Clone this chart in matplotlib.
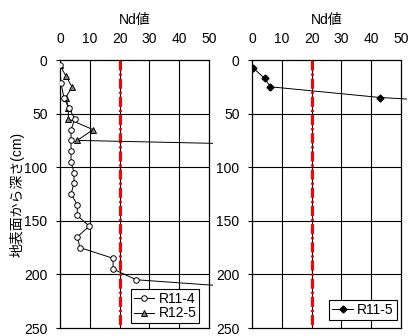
import matplotlib
matplotlib.use("Agg")
import matplotlib.pyplot as plt
from matplotlib.transforms import Bbox, TransformedBbox

plt.rcParams['font.family'] = ['Liberation Sans', 'Noto Sans CJK JP', 'DejaVu Sans']
plt.rcParams['font.size'] = 10

# R11-4 (left, circles)
r114_nd = [0, 0.3, 1.3, 3, 5, 3.7, 3.7, 3.7, 3.7, 4.7, 4.7, 3.7, 5.8, 5.8, 9.8, 5.8, 6.7, 17.8, 17.8, 25.6, 76]
r114_depth = [5, 21, 35, 45, 55, 65, 75, 85, 95, 105, 115, 125, 135, 145, 155, 165, 175, 185, 195, 205, 215]
# R12-5 (left, triangles)
r125_nd = [0, 2, 4, 2, 2.8, 2.8, 11.1, 5.8, 172]
r125_depth = [5, 15, 25, 35, 45, 55, 65, 75, 85]
# R11-5 (right, diamonds)
r115_nd = [0.2, 4.2, 6.2, 43.1, 107]
r115_depth = [7, 17, 25, 35, 45]

threshold = 20
xticks = [0, 10, 20, 30, 40, 50]
yticks = [0, 50, 100, 150, 200, 250]
xlabel = 'Nd値'
ylabel = '地表面から深さ(cm)'

W, H = 409, 336
fig = plt.figure(figsize=(W / 100, H / 100), dpi=100)
ax1 = fig.add_axes([60 / W, 1 - 328 / H, 149 / W, 268 / H])
ax2 = fig.add_axes([252 / W, 1 - 328 / H, 149 / W, 268 / H])


def style(ax):
    ax.set_xlim(0, 50)
    ax.set_ylim(250, 0)
    ax.set_xticks(xticks)
    ax.set_yticks(yticks)
    ax.xaxis.tick_top()
    ax.tick_params(axis='x', length=0, pad=10)
    ax.tick_params(axis='y', length=3, pad=6, direction='out')
    for x in xticks[1:-1]:
        ax.axvline(x, color='black', lw=0.8, zorder=1)
    for y in yticks[1:-1]:
        ax.axhline(y, color='black', lw=0.8, zorder=1)
    for s in ax.spines.values():
        s.set_linewidth(0.9)
        s.set_color('black')
    ax.text(0.5, 1 + 40 / 268, xlabel, transform=ax.transAxes,
            ha='center', va='center')
    ax.plot([threshold, threshold], [0, 250], color='#ff0000', lw=2.2,
            dashes=(3.3, 1, 0.65, 1), zorder=2)


style(ax1)
style(ax2)

clip1 = TransformedBbox(Bbox([[0, 0], [1.027, 1]]), ax1.transAxes)
clip2 = TransformedBbox(Bbox([[0, 0], [1.04, 1]]), ax2.transAxes)

l1, = ax1.plot(r114_nd, r114_depth, '-o', color='black', lw=0.7, ms=4,
               mfc='white', mec='black', mew=0.7, label='R11-4', zorder=4)
l2, = ax1.plot(r125_nd, r125_depth, '-^', color='black', lw=0.7, ms=4.5,
               mfc='#808080', mec='black', mew=0.7, label='R12-5', zorder=3)
for l in (l1, l2):
    l.set_clip_box(clip1)
l3, = ax2.plot(r115_nd, r115_depth, '-D', color='black', lw=0.7, ms=3.5,
               mfc='black', mec='black', label='R11-5', zorder=4)
l3.set_clip_box(clip2)

ax1.set_ylabel(ylabel)
ax1.yaxis.set_label_coords(-(60 - 25) / 149, 0.5)

leg_kw = dict(frameon=True, fancybox=False, edgecolor='black', borderpad=0.2,
              labelspacing=0.05, handletextpad=0.3, handlelength=1.5,
              borderaxespad=0, framealpha=1)
lg1 = ax1.legend(loc='lower right', bbox_to_anchor=(0.935, 0.018), **leg_kw)
lg2 = ax2.legend(loc='lower right', bbox_to_anchor=(0.97, 0.03), **leg_kw)
for lg in (lg1, lg2):
    lg.get_frame().set_linewidth(0.8)

fig.savefig('out.png', dpi=100)
